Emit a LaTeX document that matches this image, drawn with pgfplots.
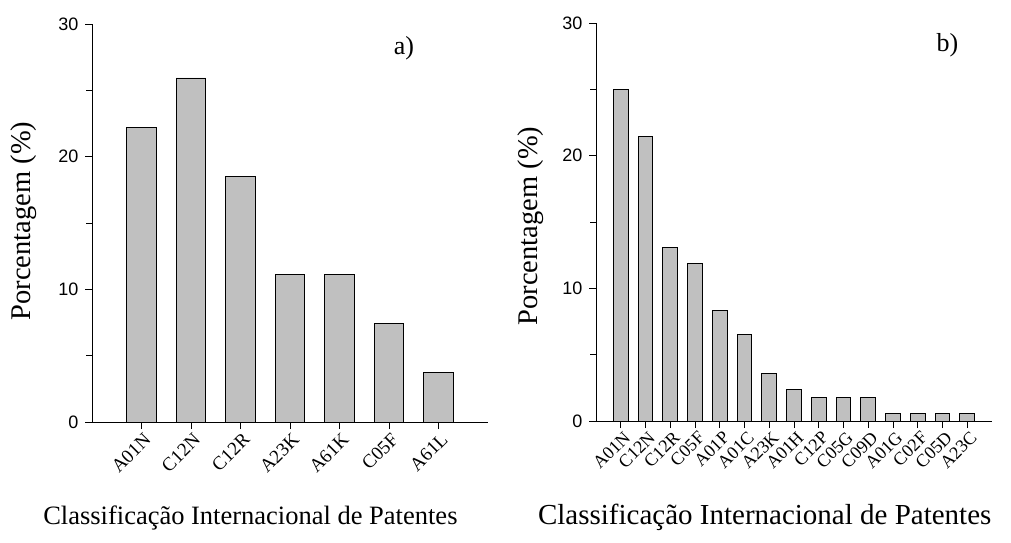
\documentclass[border=0pt]{standalone}
\usepackage{fontspec}
\setmainfont{Liberation Serif}
\newfontfamily\sansf{Liberation Sans}
\usepackage{pgfplots}
\pgfplotsset{compat=1.18}
\definecolor{barfill}{RGB}{192,192,192}
\pgfplotsset{
  mystyle/.style={
    scale only axis, width=396pt, height=398pt,
    axis x line=bottom, axis y line=left,
    axis line style={-, line width=0.9pt, black},
    ymin=0, ymax=30, ytick={0,10,20,30}, minor ytick={5,15,25},
    tick align=outside, major tick length=7pt, minor tick length=6pt,
    every tick/.style={line width=0.8pt, black},
    /pgf/number format/assume math mode=true,
    yticklabel style={font=\sansf\fontsize{18}{18}\selectfont, xshift=-3pt},
    xtick=data,
    ylabel={Porcentagem (\%)},
    xlabel={Classificação Internacional de Patentes},
    ybar, bar width=0.6,
  }
}
\begin{document}
\begin{tikzpicture}
\useasboundingbox (0,0) rectangle (1011pt,542pt);
\begin{axis}[mystyle, at={(92pt,120pt)}, anchor=south west,
  xmin=0, xmax=8,
  xticklabels={A01N,C12N,C12R,A23K,A61K,C05F,A61L},
  xticklabel style={font=\fontsize{19}{19}\selectfont, rotate=45, anchor=north east, inner sep=1pt, yshift=-2pt},
  xlabel style={font=\fontsize{26.5}{26.5}\selectfont, anchor=center, at={(axis description cs:0.40,-0.241)}},
  ylabel style={font=\fontsize{28.5}{28.5}\selectfont, anchor=center, at={(axis description cs:-0.172,0.505)}}]
\addplot[fill=barfill, draw=black, line width=0.9pt] coordinates {
(1,22.22) (2,25.93) (3,18.52) (4,11.11) (5,11.11) (6,7.41) (7,3.70)};
\node[font=\fontsize{26}{26}\selectfont] at (axis cs:6.3,28.2) {a)};
\end{axis}
\begin{axis}[mystyle, at={(596pt,121pt)}, anchor=south west,
  xmin=0, xmax=16,
  xticklabels={A01N,C12N,C12R,C05F,A01P,A01C,A23K,A01H,C12P,C05G,C09D,A01G,C02F,C05D,A23C},
  xticklabel style={font=\fontsize{18}{18}\selectfont, rotate=45, anchor=north east, inner sep=0pt, yshift=-3pt},
  xlabel style={font=\fontsize{29}{29}\selectfont, anchor=center, at={(axis description cs:0.426,-0.241)}},
  ylabel style={font=\fontsize{28.5}{28.5}\selectfont, anchor=center, at={(axis description cs:-0.166,0.49)}}]
\addplot[fill=barfill, draw=black, line width=0.9pt] coordinates {
(1,25.00) (2,21.43) (3,13.10) (4,11.90) (5,8.33) (6,6.55) (7,3.57) (8,2.38)
(9,1.79) (10,1.79) (11,1.79) (12,0.60) (13,0.60) (14,0.60) (15,0.60)};
\node[font=\fontsize{26}{26}\selectfont] at (axis cs:14.2,28.3) {b)};
\end{axis}
\end{tikzpicture}
\end{document}
